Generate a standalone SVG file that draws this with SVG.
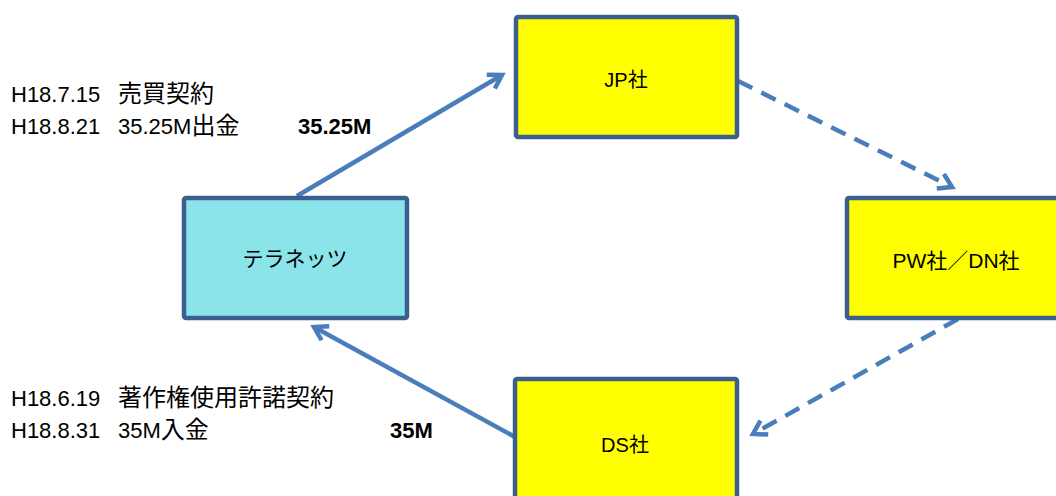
<svg xmlns="http://www.w3.org/2000/svg" width="1056" height="496" viewBox="0 0 1056 496">
<style>
.box{stroke:#3C5F8E;stroke-width:4.5}
.yel{fill:#FFFF00}
.cyan{fill:#8AE4E9}
.lbl{font-family:"Liberation Sans","Noto Sans CJK JP",sans-serif;font-size:20px;fill:#000;text-anchor:middle}
.txt{font-family:"Liberation Sans","Noto Sans CJK JP",sans-serif;font-size:22px;fill:#000}
.cjk{font-size:24px}
.bold{font-weight:bold}
.conn{stroke:#4A7EBB;stroke-width:4.5;fill:none}
.dash{stroke-dasharray:16 10}
</style>
<defs>
<marker id="arr" markerUnits="userSpaceOnUse" viewBox="0 0 24 24" markerWidth="24" markerHeight="24" refX="18" refY="12" orient="auto">
<path d="M5,4 L18,12 L5,20" fill="none" stroke="#4A7EBB" stroke-width="4.5" stroke-linejoin="miter" stroke-dasharray="none"/>
</marker>
</defs>
<rect width="1056" height="496" fill="#FFFFFF"/>
<g id="connectors">
<line class="conn" x1="297" y1="196" x2="502" y2="75" marker-end="url(#arr)"/>
<line class="conn dash" x1="738" y1="81" x2="952" y2="187" marker-end="url(#arr)"/>
<line class="conn dash" x1="958" y1="319" x2="753" y2="434" marker-end="url(#arr)"/>
<line class="conn" x1="515" y1="437" x2="314" y2="327" marker-end="url(#arr)"/>
</g>
<g id="node-jp">
<rect class="box yel" x="516" y="17" width="221" height="120" rx="2"/>
<text class="lbl" x="626" y="87">JP社</text>
</g>
<g id="node-pw">
<rect class="box yel" x="847" y="198" width="220" height="120" rx="2"/>
<text class="lbl" x="956" y="268" style="font-size:21px">PW社／DN社</text>
</g>
<g id="node-terranets">
<rect class="box cyan" x="184" y="198" width="223" height="120" rx="2"/>
<text class="lbl" x="295" y="266" style="font-size:21px">テラネッツ</text>
</g>
<g id="node-ds">
<rect class="box yel" x="515" y="379" width="222" height="130" rx="2"/>
<text class="lbl" x="625" y="452">DS社</text>
</g>
<g id="notes">
<text class="txt" x="11" y="102">H18.7.15</text>
<text class="txt cjk" x="118" y="102">売買契約</text>
<text class="txt" x="11" y="134">H18.8.21</text>
<text class="txt" x="118" y="134">35.25M<tspan class="cjk">出金</tspan></text>
<text class="txt bold" x="298" y="134">35.25M</text>
<text class="txt" x="11" y="406">H18.6.19</text>
<text class="txt cjk" x="118" y="406">著作権使用許諾契約</text>
<text class="txt" x="11" y="438">H18.8.31</text>
<text class="txt" x="118" y="438">35M<tspan class="cjk">入金</tspan></text>
<text class="txt bold" x="390" y="438">35M</text>
</g>
</svg>
